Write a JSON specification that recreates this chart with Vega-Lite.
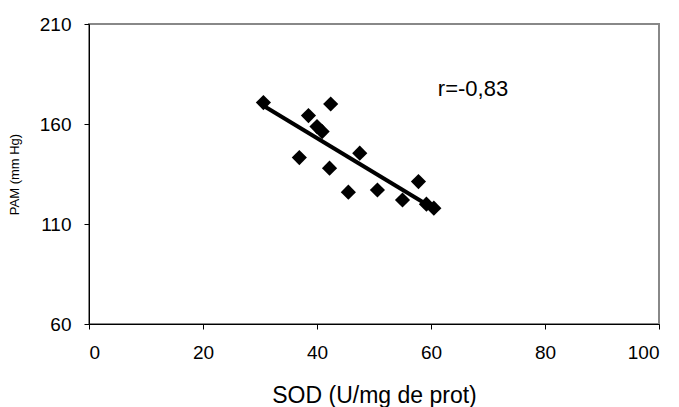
{
  "$schema": "https://vega.github.io/schema/vega-lite/v6.json",
  "autosize": {"type": "none"},
  "width": 570,
  "height": 300,
  "padding": {"left": 89, "top": 24, "right": 20, "bottom": 83},
  "background": "white",
  "config": {
    "font": "Liberation Sans",
    "view": {"stroke": "#888888", "strokeWidth": 2},
    "axis": {"grid": false, "domainColor": "#000000", "tickColor": "#000000", "labelColor": "#000000", "titleColor": "#000000", "labelFont": "Liberation Sans", "titleFont": "Liberation Sans", "titleFontWeight": "normal", "labelFontSize": 19, "tickSize": 5}
  },
  "data": {
    "values": [
      {"sod": 30.6, "pam": 170.7},
      {"sod": 42.4, "pam": 170.0},
      {"sod": 38.5, "pam": 164.2},
      {"sod": 40.0, "pam": 158.7},
      {"sod": 40.9, "pam": 156.2},
      {"sod": 36.9, "pam": 143.2},
      {"sod": 47.5, "pam": 145.4},
      {"sod": 42.2, "pam": 137.9},
      {"sod": 45.5, "pam": 125.9},
      {"sod": 50.6, "pam": 127.0},
      {"sod": 55.0, "pam": 122.0},
      {"sod": 57.8, "pam": 131.2},
      {"sod": 59.2, "pam": 119.9},
      {"sod": 60.5, "pam": 117.9}
    ]
  },
  "layer": [
    {
      "mark": {"type": "point", "shape": "diamond", "filled": true, "color": "#000000", "size": 230, "opacity": 1},
      "encoding": {
        "x": {"field": "sod", "type": "quantitative", "scale": {"domain": [0, 100], "nice": false}, "axis": {"values": [0, 20, 40, 60, 80, 100], "title": "SOD (U/mg de prot)", "titleFontSize": 23, "titlePadding": 22, "labelPadding": 14}},
        "y": {"field": "pam", "type": "quantitative", "scale": {"domain": [60, 210], "nice": false, "zero": false}, "axis": {"values": [60, 110, 160, 210], "title": "PAM (mm Hg)", "titleFontSize": 13, "titlePadding": 18, "labelPadding": 13}}
      }
    },
    {
      "transform": [{"regression": "pam", "on": "sod"}],
      "mark": {"type": "line", "color": "#000000", "strokeWidth": 4},
      "encoding": {
        "x": {"field": "sod", "type": "quantitative"},
        "y": {"field": "pam", "type": "quantitative"}
      }
    },
    {
      "data": {"values": [{"sod": 61.2, "pam": 174, "label": "r=-0,83"}]},
      "mark": {"type": "text", "align": "left", "baseline": "alphabetic", "fontSize": 22, "color": "#000000"},
      "encoding": {
        "x": {"field": "sod", "type": "quantitative"},
        "y": {"field": "pam", "type": "quantitative"},
        "text": {"field": "label"}
      }
    }
  ]
}
